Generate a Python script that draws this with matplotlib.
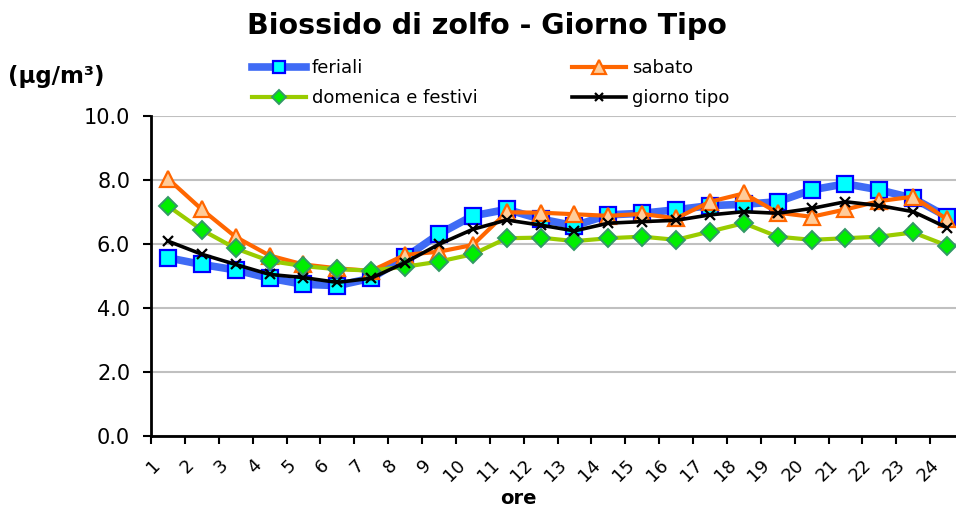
import matplotlib
matplotlib.use("Agg")
import matplotlib.pyplot as plt
import numpy as np

hours = [str(h) for h in range(1, 25)]
feriali = [5.57, 5.36, 5.19, 4.93, 4.74, 4.70, 4.93, 5.58, 6.31, 6.88, 7.08, 6.78,
           6.57, 6.91, 6.96, 7.07, 7.20, 7.24, 7.32, 7.69, 7.88, 7.69, 7.43, 6.85]
sabato = [8.04, 7.08, 6.22, 5.64, 5.36, 5.24, 5.16, 5.66, 5.76, 5.97, 6.99, 6.98,
          6.93, 6.88, 6.94, 6.80, 7.32, 7.58, 6.98, 6.85, 7.08, 7.34, 7.48, 6.77]
domenica = [7.19, 6.44, 5.86, 5.47, 5.31, 5.21, 5.17, 5.29, 5.45, 5.68, 6.18, 6.20,
            6.09, 6.18, 6.23, 6.13, 6.39, 6.65, 6.23, 6.13, 6.18, 6.23, 6.36, 5.95]
giorno_tipo = [6.09, 5.68, 5.36, 5.05, 4.95, 4.80, 4.93, 5.42, 5.99, 6.46, 6.75, 6.59,
               6.41, 6.65, 6.70, 6.74, 6.91, 7.01, 6.96, 7.11, 7.32, 7.20, 7.01, 6.51]
yticks = [0, 2, 4, 6, 8, 10]

W, H = 956, 508
fig = plt.figure(figsize=(W / 100, H / 100), dpi=100)
L, R, T, B = 151, 964, 116, 436
ax = fig.add_axes([L / W, (H - B) / H, (R - L) / W, (B - T) / H])

x = np.arange(len(hours)) + 0.5
l1, = ax.plot(x, feriali, color='#3F6BF5', lw=5.5, marker='s', ms=11,
              mfc='#00FFFF', mec='#0000FF', mew=1.6, label='feriali', zorder=3)
l2, = ax.plot(x, sabato, color='#FF6600', lw=3, marker='^', ms=12,
              mfc='#FFCC99', mec='#FF6600', mew=1.6, label='sabato', zorder=4)
l3, = ax.plot(x, domenica, color='#99CC00', lw=3, marker='D', ms=9,
              mfc='#00EE00', mec='#339966', mew=1.4, label='domenica e festivi', zorder=5)
l4, = ax.plot(x, giorno_tipo, color='black', lw=2.6, marker='x', ms=7,
              mec='black', mew=1.6, label='giorno tipo', zorder=6)

ax.set_xlim(0, len(hours))
ax.set_ylim(0, 10)
ax.set_yticks(yticks)
ax.set_yticklabels([f"{v:.1f}" for v in yticks], fontsize=15)
ax.set_xticks(np.arange(len(hours)))
ax.set_xticklabels(hours, rotation=45, ha='right', va='top', fontsize=13,
                   rotation_mode='anchor')
ax.tick_params(axis='x', direction='out', length=5.5, width=1.5, pad=9)
ax.tick_params(axis='y', direction='out', length=6, width=1.5, pad=9)
ax.grid(axis='y', color='#C0C0C0', lw=1.5, zorder=0)
ax.set_axisbelow(True)
for s in ['top', 'right']:
    ax.spines[s].set_visible(False)
for s in ['left', 'bottom']:
    ax.spines[s].set_linewidth(2)

fig.text(487 / W, 1 - 26 / H, 'Biossido di zolfo - Giorno Tipo', ha='center', va='center',
         fontsize=20.5, fontweight='bold')
fig.text(8 / W, 1 - 76 / H, '(μg/m³)', ha='left', va='center', fontsize=16.5, fontweight='bold')
fig.text(518 / W, 1 - 498 / H, 'ore', ha='center', va='center', fontsize=14, fontweight='bold')

fig.legend(handles=[l1, l3, l2, l4], ncol=2, loc='upper left',
           bbox_to_anchor=(252 / W, 1 - 59 / H), frameon=False, fontsize=13,
           handlelength=3.0, handletextpad=0.3, columnspacing=5.25,
           labelspacing=0.68, borderpad=0, borderaxespad=0, markerscale=0.8)

fig.savefig('out.png', dpi=100)
